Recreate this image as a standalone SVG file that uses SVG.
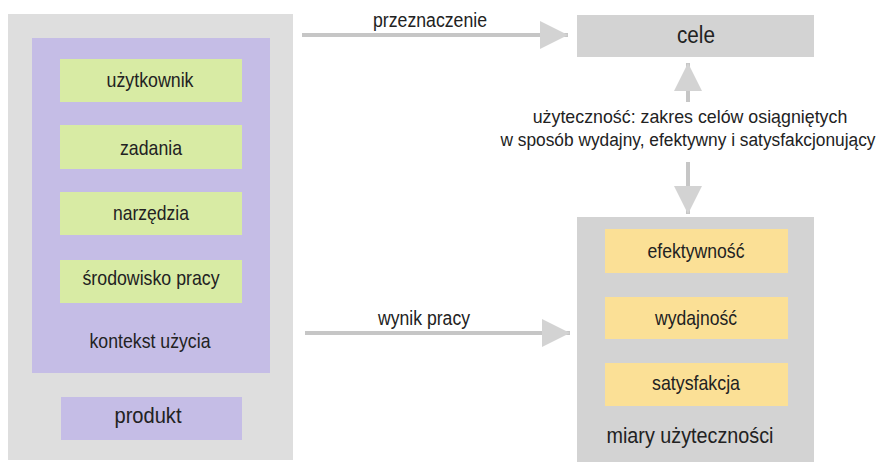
<svg xmlns="http://www.w3.org/2000/svg" width="882" height="462" viewBox="0 0 882 462">
  <defs>
    <marker id="head" viewBox="0 0 10 10" refX="10" refY="5" markerWidth="8" markerHeight="7" markerUnits="strokeWidth" orient="auto">
      <path d="M0,0 L10,5 L0,10 Z" fill="#d3d3d3"/>
    </marker>
    <marker id="head-start" viewBox="0 0 10 10" refX="0" refY="5" markerWidth="8" markerHeight="7" markerUnits="strokeWidth" orient="auto">
      <path d="M10,0 L0,5 L10,10 Z" fill="#d3d3d3"/>
    </marker>
  </defs>
  <style>
    text { font-family: "Liberation Sans", Arial, sans-serif; fill: #222; text-anchor: middle; }
    .outer { fill: #dedede; }
    .ctx { fill: #c5bde6; }
    .green { fill: #d8eba4; }
    .yellow { fill: #fbe096; }
    .grey { fill: #d3d3d3; }
    .lbl { font-size: 21px; }
    .cap { font-size: 20px; }
    .note { font-size: 19px; }
    .conn { stroke: #c6c6c6; stroke-width: 4; fill: none; }
  </style>
  <rect width="882" height="462" fill="#ffffff"/>

  <!-- left column: context of use and product -->
  <g id="system">
    <rect class="outer" x="8" y="14" width="285" height="446"/>
  </g>
  <g id="kontekst">
    <rect class="ctx" x="32" y="38" width="238" height="335"/>
    <text class="lbl" x="150" y="348" textLength="121" lengthAdjust="spacingAndGlyphs">kontekst użycia</text>
  </g>
  <g id="uzytkownik">
    <rect class="green" x="60" y="59" width="182" height="43"/>
    <text class="lbl" x="150" y="87" textLength="87" lengthAdjust="spacingAndGlyphs">użytkownik</text>
  </g>
  <g id="zadania">
    <rect class="green" x="60" y="125" width="182" height="44"/>
    <text class="lbl" x="151" y="155" textLength="62" lengthAdjust="spacingAndGlyphs">zadania</text>
  </g>
  <g id="narzedzia">
    <rect class="green" x="60" y="192" width="182" height="43"/>
    <text class="lbl" x="151" y="220" textLength="76" lengthAdjust="spacingAndGlyphs">narzędzia</text>
  </g>
  <g id="srodowisko">
    <rect class="green" x="60" y="260" width="182" height="43"/>
    <text class="lbl" x="151" y="285" textLength="137" lengthAdjust="spacingAndGlyphs">środowisko pracy</text>
  </g>
  <g id="produkt">
    <rect class="ctx" x="61" y="397" width="181" height="43"/>
    <text x="148" y="423" font-size="22" textLength="67" lengthAdjust="spacingAndGlyphs">produkt</text>
  </g>

  <!-- right column: goals and usability measures -->
  <g id="cele">
    <rect class="grey" x="577" y="15" width="237" height="42"/>
    <text x="696" y="43" font-size="23" textLength="38" lengthAdjust="spacingAndGlyphs">cele</text>
  </g>
  <g id="miary">
    <rect class="grey" x="577" y="217" width="237" height="245"/>
    <text x="690" y="443" font-size="22" textLength="167" lengthAdjust="spacingAndGlyphs">miary użyteczności</text>
  </g>
  <g id="efektywnosc">
    <rect class="yellow" x="605" y="229" width="183" height="44"/>
    <text class="lbl" x="696" y="258" textLength="97" lengthAdjust="spacingAndGlyphs">efektywność</text>
  </g>
  <g id="wydajnosc">
    <rect class="yellow" x="605" y="297" width="183" height="42"/>
    <text class="lbl" x="696" y="325" textLength="82" lengthAdjust="spacingAndGlyphs">wydajność</text>
  </g>
  <g id="satysfakcja">
    <rect class="yellow" x="605" y="363" width="183" height="43"/>
    <text class="lbl" x="696" y="390" textLength="88" lengthAdjust="spacingAndGlyphs">satysfakcja</text>
  </g>

  <!-- connectors -->
  <g id="connectors">
    <line class="conn" x1="302" y1="35" x2="568" y2="35" marker-end="url(#head)"/>
    <text class="cap" x="430" y="27" textLength="114" lengthAdjust="spacingAndGlyphs">przeznaczenie</text>
    <line class="conn" x1="305" y1="333" x2="570" y2="333" marker-end="url(#head)"/>
    <text class="cap" x="424" y="325" textLength="92" lengthAdjust="spacingAndGlyphs">wynik pracy</text>
    <line class="conn" x1="688" y1="63" x2="688" y2="102" marker-start="url(#head-start)"/>
    <line class="conn" x1="688" y1="162" x2="688" y2="214" marker-end="url(#head)"/>
    <text class="note" transform="translate(690,123) scale(0.937,1)">użyteczność: zakres celów osiągniętych</text>
    <text class="note" transform="translate(688,146) scale(0.912,1)">w sposób wydajny, efektywny i satysfakcjonujący</text>
  </g>
</svg>
